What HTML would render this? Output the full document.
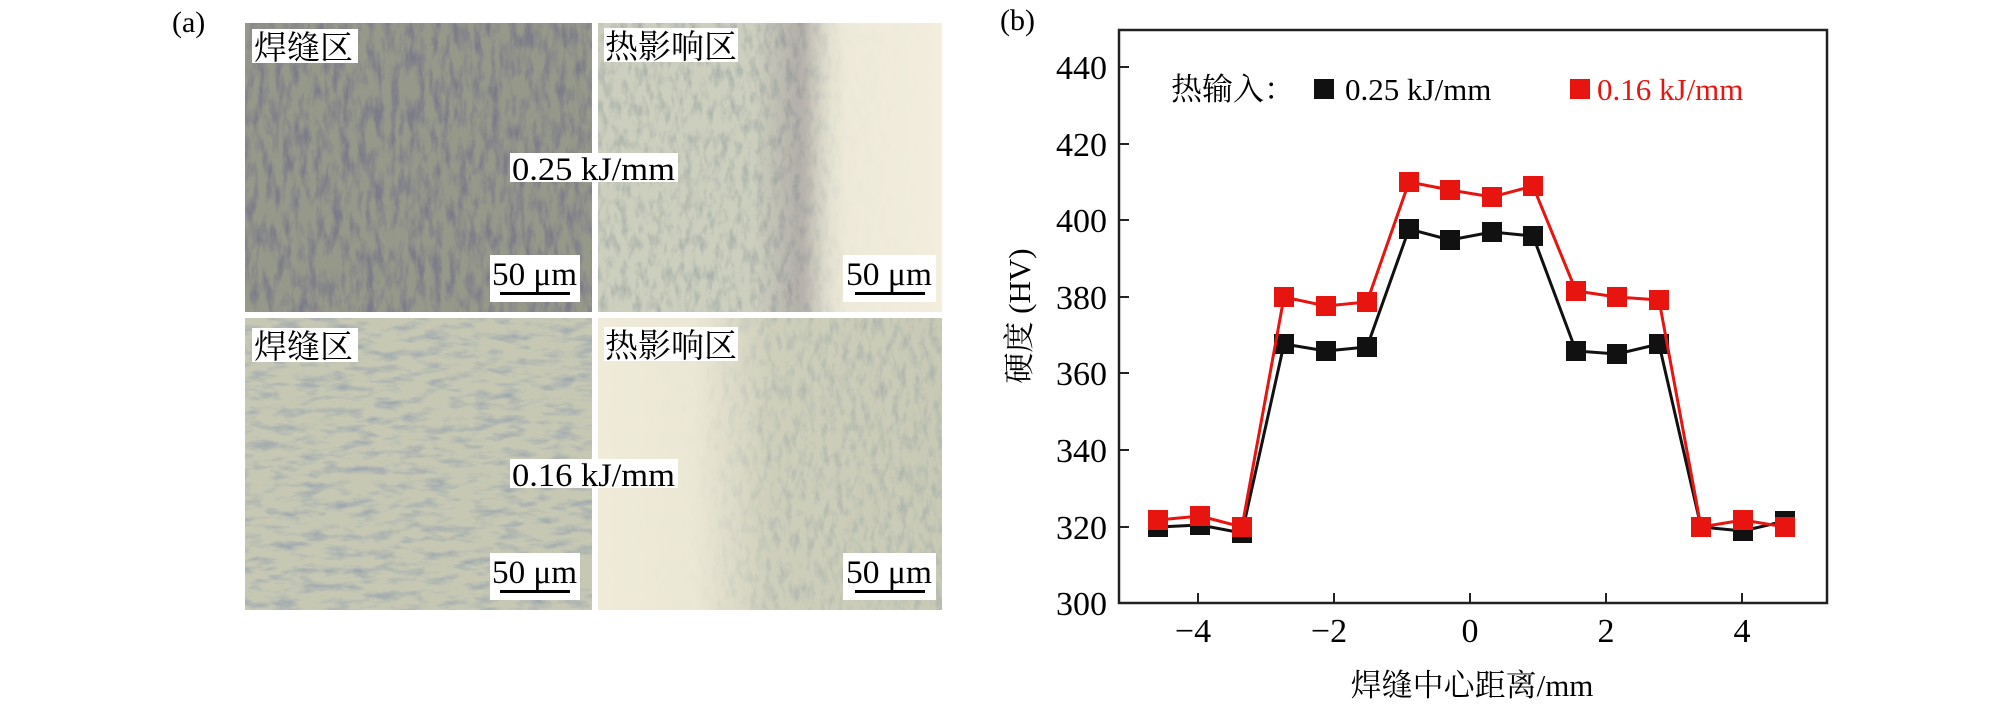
<!DOCTYPE html>
<html><head><meta charset="utf-8"><style>
html,body{margin:0;padding:0;background:#fff;}
body{width:2008px;height:705px;position:relative;overflow:hidden;}
svg{position:absolute;left:0;top:0;}
</style></head><body>
<svg width="2008" height="705" viewBox="0 0 2008 705" xmlns="http://www.w3.org/2000/svg">
<defs>
<filter id="tex1" x="0" y="0" width="100%" height="100%">
 <feTurbulence type="fractalNoise" baseFrequency="0.12 0.04" numOctaves="4" seed="3"/>
 <feColorMatrix type="matrix" values="0 0 0 0 0.2  0 0 0 0 0.2  0 0 0 0 0.25  -2.6 0 0 0 1.55"/>
</filter>
<filter id="tex2" x="0" y="0" width="100%" height="100%">
 <feTurbulence type="fractalNoise" baseFrequency="0.14 0.06" numOctaves="4" seed="7"/>
 <feColorMatrix type="matrix" values="0 0 0 0 0.35  0 0 0 0 0.4  0 0 0 0 0.38  -2.2 0 0 0 1.25"/>
</filter>
<filter id="tex3" x="0" y="0" width="100%" height="100%">
 <feTurbulence type="fractalNoise" baseFrequency="0.04 0.12" numOctaves="4" seed="11"/>
 <feColorMatrix type="matrix" values="0 0 0 0 0.3  0 0 0 0 0.35  0 0 0 0 0.42  -2.2 0 0 0 1.2"/>
</filter>
<linearGradient id="trGrad" x1="0" x2="1" y1="0" y2="0">
 <stop offset="0" stop-color="#f2eddd" stop-opacity="0"/>
 <stop offset="0.58" stop-color="#f2eddd" stop-opacity="0"/>
 <stop offset="0.72" stop-color="#f2eddd" stop-opacity="0.9"/>
 <stop offset="1" stop-color="#f2eddd" stop-opacity="1"/>
</linearGradient>
<linearGradient id="brGrad" x1="0" x2="1" y1="0" y2="0">
 <stop offset="0" stop-color="#f0ebd9" stop-opacity="1"/>
 <stop offset="0.28" stop-color="#f0ebd9" stop-opacity="0.9"/>
 <stop offset="0.5" stop-color="#f0ebd9" stop-opacity="0.15"/>
 <stop offset="1" stop-color="#f0ebd9" stop-opacity="0"/>
</linearGradient>
<linearGradient id="trBand" x1="0" x2="1" y1="0" y2="0">
 <stop offset="0.45" stop-color="#6c5a70" stop-opacity="0"/>
 <stop offset="0.6" stop-color="#6c5a70" stop-opacity="0.3"/>
 <stop offset="0.68" stop-color="#6c5a70" stop-opacity="0"/>
</linearGradient>
</defs>

<text x="172" y="32" font-family="Liberation Serif, serif" font-size="30">(a)</text>

<rect x="245" y="23" width="347" height="289" fill="#96988a"/>
<rect x="245" y="23" width="347" height="289" filter="url(#tex1)"/>
<rect x="598" y="23" width="344" height="289" fill="#cdcfbe"/>
<rect x="598" y="23" width="344" height="289" filter="url(#tex2)" opacity="0.8"/>
<rect x="598" y="23" width="344" height="289" fill="url(#trBand)"/>
<rect x="598" y="23" width="344" height="289" fill="url(#trGrad)"/>
<rect x="245" y="318" width="347" height="292" fill="#c6c8b4"/>
<rect x="245" y="318" width="347" height="292" filter="url(#tex3)" opacity="0.85"/>
<rect x="598" y="318" width="344" height="292" fill="#c8cab6"/>
<rect x="598" y="318" width="344" height="292" filter="url(#tex2)" opacity="0.75"/>
<rect x="598" y="318" width="344" height="292" fill="url(#brGrad)"/>

<g font-family="Liberation Serif, Noto Serif CJK SC, serif" font-size="33" fill="#000">
 <rect x="252" y="29" width="106" height="34" fill="#fff"/>
 <text x="254" y="59">焊缝区</text>
 <rect x="604" y="28" width="134" height="34" fill="#fff"/>
 <text x="605" y="58">热影响区</text>
 <rect x="252" y="328" width="106" height="34" fill="#fff"/>
 <text x="254" y="358">焊缝区</text>
 <rect x="604" y="327" width="134" height="34" fill="#fff"/>
 <text x="605" y="357">热影响区</text>

 <rect x="510" y="153" width="168" height="29" fill="#fff"/>
 <text x="512" y="180" textLength="163" lengthAdjust="spacingAndGlyphs">0.25 kJ/mm</text>
 <rect x="510" y="459" width="168" height="29" fill="#fff"/>
 <text x="512" y="486" textLength="163" lengthAdjust="spacingAndGlyphs">0.16 kJ/mm</text>

 <rect x="490" y="255" width="90" height="47" fill="#fff"/>
 <text x="492" y="285" textLength="85" lengthAdjust="spacingAndGlyphs">50 μm</text>
 <rect x="500" y="292" width="70" height="3"/>
 <rect x="843" y="255" width="93" height="47" fill="#fff"/>
 <text x="846" y="285" textLength="86" lengthAdjust="spacingAndGlyphs">50 μm</text>
 <rect x="855" y="292" width="70" height="3"/>
 <rect x="490" y="553" width="90" height="47" fill="#fff"/>
 <text x="492" y="583" textLength="85" lengthAdjust="spacingAndGlyphs">50 μm</text>
 <rect x="500" y="590" width="70" height="3"/>
 <rect x="843" y="553" width="93" height="47" fill="#fff"/>
 <text x="846" y="583" textLength="86" lengthAdjust="spacingAndGlyphs">50 μm</text>
 <rect x="855" y="590" width="70" height="3"/>
</g>

<text x="1000" y="30" font-family="Liberation Serif, serif" font-size="30">(b)</text>
<rect x="1119" y="30" width="708" height="573" fill="none" stroke="#222" stroke-width="2.5"/>
<g stroke="#222" stroke-width="2">
 <line x1="1119" y1="67" x2="1129" y2="67"/>
 <line x1="1119" y1="144" x2="1129" y2="144"/>
 <line x1="1119" y1="220" x2="1129" y2="220"/>
 <line x1="1119" y1="297" x2="1129" y2="297"/>
 <line x1="1119" y1="373" x2="1129" y2="373"/>
 <line x1="1119" y1="450" x2="1129" y2="450"/>
 <line x1="1119" y1="527" x2="1129" y2="527"/>
 <line x1="1198" y1="603" x2="1198" y2="593"/>
 <line x1="1334" y1="603" x2="1334" y2="593"/>
 <line x1="1470" y1="603" x2="1470" y2="593"/>
 <line x1="1606" y1="603" x2="1606" y2="593"/>
 <line x1="1742" y1="603" x2="1742" y2="593"/>
</g>
<g font-family="Liberation Serif, serif" font-size="34" fill="#000" text-anchor="end">
 <text x="1107" y="79">440</text>
 <text x="1107" y="156">420</text>
 <text x="1107" y="232">400</text>
 <text x="1107" y="309">380</text>
 <text x="1107" y="385">360</text>
 <text x="1107" y="462">340</text>
 <text x="1107" y="539">320</text>
 <text x="1107" y="615">300</text>
</g>
<g font-family="Liberation Serif, serif" font-size="34" fill="#000" text-anchor="middle">
 <text x="1193" y="642">−4</text>
 <text x="1329" y="642">−2</text>
 <text x="1470" y="642">0</text>
 <text x="1606" y="642">2</text>
 <text x="1742" y="642">4</text>
</g>
<text x="1472" y="696" text-anchor="middle" font-family="Liberation Serif, Noto Serif CJK SC, serif" font-size="31">焊缝中心距离/mm</text>
<text transform="translate(1030,316) rotate(-90)" text-anchor="middle" font-family="Liberation Serif, Noto Serif CJK SC, serif" font-size="31">硬度 (HV)</text>

<text x="1171" y="100" font-family="Liberation Serif, Noto Serif CJK SC, serif" font-size="31">热输入：</text>
<rect x="1314" y="79" width="20" height="20" fill="#111"/>
<text x="1345" y="100" font-family="Liberation Serif, serif" font-size="31">0.25 kJ/mm</text>
<rect x="1570" y="79" width="20" height="20" fill="#e8140f"/>
<text x="1597" y="100" font-family="Liberation Serif, serif" font-size="31" fill="#e8140f">0.16 kJ/mm</text>

<polyline fill="none" stroke="#111" stroke-width="3" points="1158,527 1200,525 1242,533 1284,344 1326,351 1367,347 1409,229 1450,240 1492,232 1533,236 1576,351 1617,354 1659,344 1701,527 1743,531 1785,521"/>
<g fill="#111">
 <rect x="1148" y="517" width="20" height="20"/><rect x="1190" y="515" width="20" height="20"/><rect x="1232" y="523" width="20" height="20"/>
 <rect x="1274" y="334" width="20" height="20"/><rect x="1316" y="341" width="20" height="20"/><rect x="1357" y="337" width="20" height="20"/>
 <rect x="1399" y="219" width="20" height="20"/><rect x="1440" y="230" width="20" height="20"/><rect x="1482" y="222" width="20" height="20"/>
 <rect x="1523" y="226" width="20" height="20"/><rect x="1566" y="341" width="20" height="20"/><rect x="1607" y="344" width="20" height="20"/>
 <rect x="1649" y="334" width="20" height="20"/><rect x="1691" y="517" width="20" height="20"/><rect x="1733" y="521" width="20" height="20"/>
 <rect x="1775" y="511" width="20" height="20"/>
</g>
<polyline fill="none" stroke="#e8140f" stroke-width="3" points="1158,520 1200,516 1242,527 1284,297 1326,306 1367,302 1409,182 1450,190 1492,197 1533,186 1576,291 1617,297 1659,300 1701,527 1743,520 1785,527"/>
<g fill="#e8140f">
 <rect x="1148" y="510" width="20" height="20"/><rect x="1190" y="506" width="20" height="20"/><rect x="1232" y="517" width="20" height="20"/>
 <rect x="1274" y="287" width="20" height="20"/><rect x="1316" y="296" width="20" height="20"/><rect x="1357" y="292" width="20" height="20"/>
 <rect x="1399" y="172" width="20" height="20"/><rect x="1440" y="180" width="20" height="20"/><rect x="1482" y="187" width="20" height="20"/>
 <rect x="1523" y="176" width="20" height="20"/><rect x="1566" y="281" width="20" height="20"/><rect x="1607" y="287" width="20" height="20"/>
 <rect x="1649" y="290" width="20" height="20"/><rect x="1691" y="517" width="20" height="20"/><rect x="1733" y="510" width="20" height="20"/>
 <rect x="1775" y="517" width="20" height="20"/>
</g>
</svg>
</body></html>
